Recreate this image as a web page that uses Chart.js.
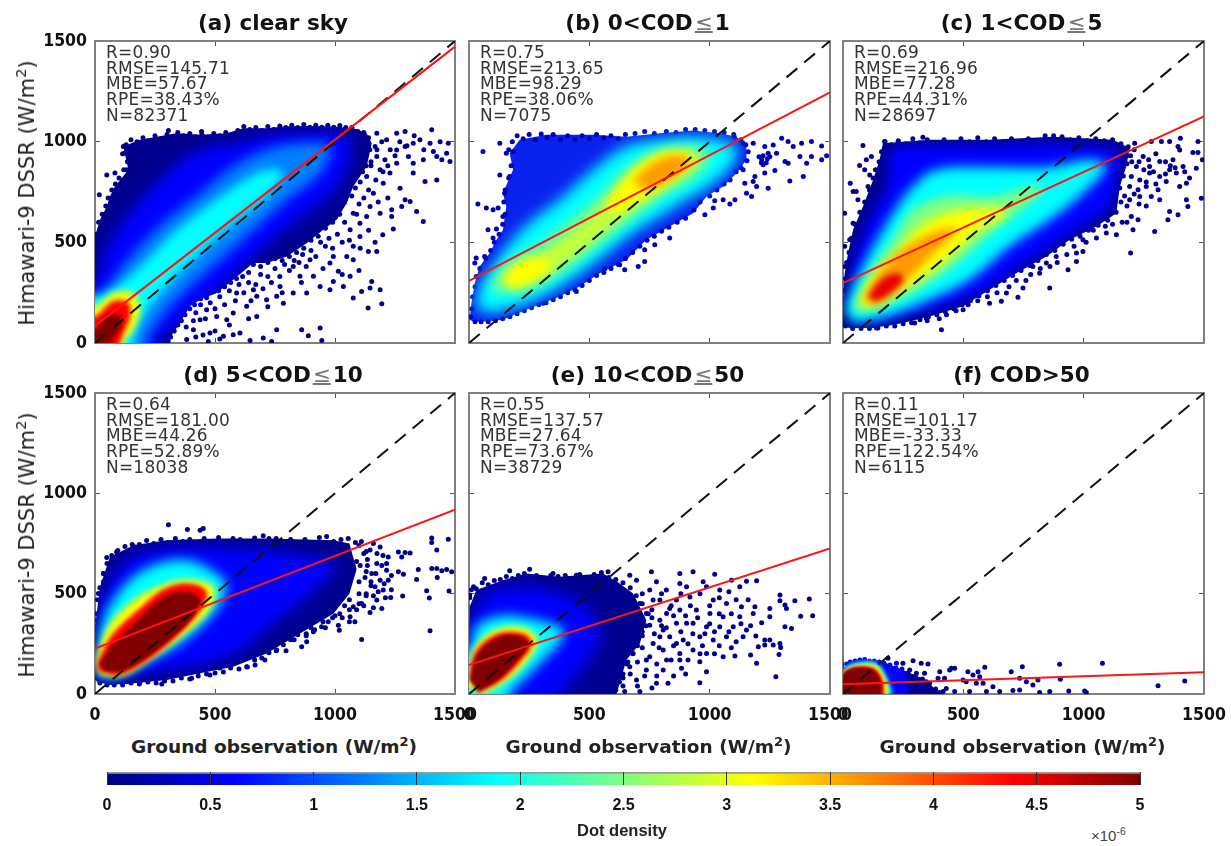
<!DOCTYPE html>
<html>
<head>
<meta charset="utf-8">
<title>Himawari-9 DSSR vs ground observation</title>
<script src="https://cdn.jsdelivr.net/npm/chart.js@4/dist/chart.umd.js"></script>
<style>
  body { margin: 0; background: #fff; }
  #page { position: relative; width: 1231px; height: 846px; overflow: hidden; background: #fff; filter: blur(0.35px); }
  canvas { position: absolute; }
  .txt { position: absolute; white-space: nowrap; font-family: "DejaVu Sans", sans-serif; }
  .title { font-weight: bold; font-size: 21.5px; color: #111; transform: translateX(-50%); }
  .title i { font-style: normal; font-weight: normal; color: #777; text-decoration: underline; text-underline-offset: 1px; padding: 0 2px; }
  .stats { font-size: 17px; letter-spacing: 0.2px; line-height: 15.7px; color: #333; white-space: pre; }
  .xname { font-weight: bold; font-size: 18.5px; color: #222; transform: translateX(-50%); }
  .yname { font-size: 21px; color: #222; transform: translate(-50%,-50%) rotate(-90deg); }
  sup { font-size: 70%; line-height: 0; }
</style>
</head>
<body>
<div id="page"></div>
<script>
const tickValues = [0, 500, 1000, 1500];
const barTicks = [0, 0.5, 1, 1.5, 2, 2.5, 3, 3.5, 4, 4.5, 5];

const diagonal = [[0, 0], [1500, 1500]];
const fitA = [[0, 85], [1500, 1472]];
const fitB = [[0, 309], [1500, 1245]];
const fitC = [[0, 298], [1500, 1125]];
const fitD = [[0, 227], [1500, 919]];
const fitE = [[0, 144], [1500, 725]];
const fitF = [[0, 48], [1500, 108]];

// (a) clear sky: density contours, outermost first
const aOuter = [[0,0],[0,530],[21,612],[49,678],[62,728],[83,777],[139,860],[118,976],[187,1009],[257,1025],[340,1042],[438,1034],[549,1042],[618,1067],[715,1067],[785,1075],[882,1078],[993,1075],[1076,1067],[1132,1042],[1153,992],[1132,877],[1076,777],[1049,695],[1007,612],[951,562],[882,496],[799,430],[715,397],[660,397],[576,314],[507,248],[438,215],[396,182],[354,99],[326,50],[299,0]];
const aBlue = [[-80,-80],[-80,298],[0,298],[40,450],[130,620],[270,810],[420,950],[576,990],[715,1030],[854,1042],[993,1042],[1063,1009],[1063,926],[1000,760],[880,640],[745,520],[610,370],[470,220],[330,80],[250,0],[250,-80]];
const aAzure = [[-80,-80],[-80,215],[0,215],[160,447],[299,612],[438,744],[576,877],[715,959],[854,992],[979,976],[938,844],[785,695],[646,546],[507,397],[368,248],[257,99],[215,0],[215,-80]];
const aCyan = [[-80,-80],[-80,200],[49,248],[188,380],[326,546],[465,678],[604,794],[715,860],[785,844],[715,728],[576,595],[438,447],[299,281],[201,132],[160,0],[160,-80]];
const aYellow = [[-80,-80],[-80,180],[0,182],[76,248],[160,248],[188,165],[160,66],[118,0],[118,-80]];
const aRed = [[-80,-80],[-80,130],[0,132],[76,207],[139,198],[146,132],[104,0],[104,-80]];
const aDark = [[-80,-80],[-80,66],[0,66],[49,140],[97,140],[111,91],[69,0],[69,-80]];
const aDots = [[1174,1042],[1257,1042],[1292,1050],[1403,1059],[1215,1009],[1326,992],[1396,992],[1438,1000],[1472,992],[1167,976],[1257,959],[1292,976],[1354,1009],[1410,951],[1465,943],[1445,910],[1479,901],[1326,893],[1368,910],[1424,926],[1174,926],[1208,910],[1257,893],[1306,926],[1188,860],[1229,844],[1326,844],[1375,802],[1424,810],[1132,827],[1201,794],[1271,769],[1160,744],[1292,711],[1313,703],[1278,678],[1236,662],[1340,653],[1368,604],[1146,678],[1188,645],[1236,628],[1243,566],[1132,628],[1076,645],[1104,595],[1063,562],[1199,538],[1104,529],[1167,500],[1139,455],[1174,455],[1076,480],[1049,430],[993,430],[1076,414],[979,397],[1014,356],[1063,331],[910,331],[993,306],[938,281],[1035,281],[1153,306],[1146,273],[1111,256],[1188,265],[1076,223],[1195,195],[1138,174],[979,265],[826,248],[882,248],[757,232],[785,198],[715,215],[674,232],[861,66],[938,74],[889,36],[757,66],[945,13],[646,13],[604,50],[576,41],[535,33],[479,50],[472,8],[736,8],[701,25],[674,132],[632,182],[576,149],[549,116],[507,132],[438,116],[465,165],[410,66],[382,17],[590,248],[660,265],[771,281],[854,331],[896,414],[826,380],[18,736],[49,835],[83,844],[132,860],[0,521],[35,595],[118,976],[125,943],[306,1055],[444,1050],[1090,1050]];
const aMore = [[420,150],[440,190],[460,120],[480,200],[500,170],[520,230],[540,190],[560,260],[585,210],[600,290],[620,250],[640,300],[650,210],[670,290],[690,340],[700,270],[720,330],[735,300],[750,370],[770,330],[790,390],[810,360],[830,410],[850,400],[865,440],[880,380],[900,460],[920,430],[940,500],[960,480],[975,520],[990,470],[1010,540],[1030,500],[1040,600],[1060,510],[1090,640],[1100,690],[1120,720],[1140,760],[1170,810],[1200,850],[1220,880],[1150,880],[1175,960],[1195,1000],[1230,960],[1250,930],[1270,1000],[1300,980],[1330,1030],[1370,960],[1180,700],[1220,720],[1105,470],[1140,560],[1100,360],[1030,340],[950,370],[860,300],[780,250],[720,180],[640,120],[560,90],[500,60],[450,40],[410,110],[380,80],[420,30],[520,20]];
const aRim = [[130,985],[150,1010],[175,1000],[200,1020],[225,1005],[250,1030],[275,1015],[300,1035],[320,1020],[345,1045],[370,1030],[395,1040],[420,1025],[445,1035],[470,1020],[495,1040],[520,1030],[545,1045],[570,1035],[595,1055],[620,1075],[645,1060],[670,1070],[695,1055],[720,1075],[745,1060],[770,1078],[795,1070],[820,1082],[845,1070],[870,1085],[895,1072],[920,1082],[945,1072],[970,1082],[995,1072],[1020,1080],[1045,1070],[1070,1070],[1095,1050],[1120,1045],[1140,1020],[1145,960],[1150,900],[1130,880],[1115,850],[1105,800],[1085,770],[1070,730],[1040,700],[1020,640],[990,600],[960,570],[930,530],[900,510],[870,470],[840,450],[810,430],[780,410],[750,420],[720,400],[690,380],[660,390],[640,350],[615,330],[590,320],[565,300],[540,280],[515,260],[490,255],[465,225],[440,220],[415,190],[395,170],[375,140],[360,110],[345,90],[330,60],[315,30],[305,10],[5,540],[15,600],[30,640],[45,680],[55,720],[70,760],[85,790],[100,820],[120,860],[135,900],[115,940],[125,980]];

// (b) 0<COD<=1
const bOuter = [[3,116],[10,198],[24,298],[44,380],[86,447],[114,513],[141,562],[155,678],[141,744],[183,860],[169,943],[211,1009],[322,1034],[516,1034],[654,1025],[793,1042],[931,1055],[1042,1042],[1112,1025],[1153,976],[1153,910],[1112,844],[1056,777],[987,728],[931,645],[834,579],[737,513],[654,414],[543,347],[460,281],[363,223],[238,165],[141,116],[72,107],[17,107]];
const bCyan = [[30,165],[44,281],[100,380],[169,496],[266,612],[377,711],[516,860],[654,976],[793,1009],[931,1025],[1042,1009],[1112,976],[1098,893],[1015,794],[904,711],[793,628],[682,546],[557,430],[446,331],[335,248],[211,182],[100,149]];
const bGreen = [[86,265],[141,380],[266,463],[377,562],[516,695],[654,860],[793,959],[931,976],[1001,926],[917,810],[793,728],[682,628],[557,513],[432,397],[308,298],[183,248]];
const bLime = [[141,314],[238,397],[377,496],[516,628],[627,761],[738,877],[863,943],[960,926],[848,811],[710,695],[585,580],[446,447],[322,347],[197,265]];
const bYellowLow = [[141,331],[225,414],[322,414],[335,364],[238,298],[169,281]];
const bYellowHigh = [[571,695],[682,860],[793,943],[904,943],[931,893],[820,794],[710,711],[613,645]];
const bOrange = [[680,800],[750,880],[830,925],[900,925],[915,885],[830,810],[750,760]];
const bDots = [[1181,992],[1229,976],[1264,984],[1299,1017],[1326,1001],[1347,976],[1382,992],[1423,1001],[1465,979],[1486,930],[1465,910],[1423,926],[1403,893],[1375,926],[1326,893],[1313,901],[1278,943],[1243,943],[1216,910],[1222,885],[1271,857],[1229,844],[1188,827],[1181,802],[1195,777],[1243,769],[1333,805],[1389,827],[1139,860],[1146,794],[1153,744],[1174,728],[1105,711],[1084,691],[1056,711],[1021,706],[1015,670],[980,637],[834,521],[772,488],[730,463],[730,405],[703,380],[647,364],[626,389],[564,367],[446,256],[308,198],[1102,1025],[1139,992],[1222,930],[1240,915],[1205,925],[1250,925],[1215,895],[1235,895],[58,951],[128,992],[37,691],[72,670],[100,662],[79,562],[114,566],[100,521],[24,397],[30,422],[65,430],[128,835],[169,827],[155,943],[183,951],[148,744],[121,670],[141,628]];
const bRim = [[165,960],[180,1000],[200,1030],[225,1015],[250,1035],[275,1010],[300,1038],[325,1020],[350,1035],[380,1010],[410,1030],[440,1010],[470,1030],[500,1015],[530,1035],[560,1020],[590,1030],[620,1015],[650,1035],[690,1040],[730,1050],[770,1040],[820,1050],[860,1045],[900,1060],[940,1060],[980,1055],[1020,1050],[1060,1045],[1100,1035],[1130,1010],[1150,985],[1160,950],[1155,905],[1130,870],[1110,850],[1085,810],[1060,790],[1030,760],[1000,730],[960,700],[935,660],[900,620],[865,600],[830,575],[800,555],[770,530],[740,510],[710,480],[680,450],[650,420],[620,390],[590,370],[560,350],[530,335],[500,310],[470,285],[440,265],[410,250],[380,230],[350,215],[320,200],[290,190],[260,175],[230,160],[200,145],[170,130],[140,120],[110,110],[80,105],[50,105],[25,105],[8,130],[12,170],[15,230],[25,280],[30,330],[45,370],[70,420],[90,460],[105,500],[125,540],[140,590],[150,640],[145,700],[150,760],[165,820],[175,880]];

// (c) 1<COD<=5
const cOuter = [[0,83],[0,215],[7,347],[21,446],[42,562],[83,678],[125,810],[152,910],[166,992],[360,1009],[609,1009],[872,1025],[1122,1009],[1191,968],[1177,877],[1150,777],[1136,645],[1053,579],[942,513],[845,430],[720,347],[609,265],[499,182],[360,132],[249,99],[125,74],[28,74]];
const cBlue = [[28,132],[42,380],[97,579],[180,777],[208,965],[360,980],[609,985],[872,990],[1053,975],[1150,945],[1136,810],[1108,678],[997,579],[845,463],[693,347],[540,232],[360,165],[194,116],[55,91]];
const cCyan = [[7,165],[42,281],[111,447],[208,645],[291,777],[388,860],[609,873],[845,873],[1025,910],[1094,877],[997,744],[859,612],[693,480],[526,314],[360,215],[180,132],[42,99]];
const cGreen = [[42,182],[111,347],[208,513],[291,662],[429,728],[637,728],[776,777],[831,761],[720,645],[596,529],[471,397],[332,281],[166,182],[69,149]];
const cYellow = [[69,215],[125,331],[222,447],[305,562],[429,645],[637,670],[679,645],[568,562],[429,414],[291,298],[152,199],[83,182]];
const cOrange = [[85,215],[165,370],[270,480],[400,560],[470,560],[370,440],[260,310],[140,190]];
const cRed = [[105,235],[165,320],[230,345],[250,310],[185,235],[130,205]];
const cDots = [[1212,992],[1281,1001],[1323,1001],[1357,1001],[1402,1017],[1475,1001],[1493,910],[1454,946],[1475,946],[1392,976],[1399,959],[1468,868],[1413,877],[1371,910],[1316,901],[1274,877],[1247,926],[1219,877],[1198,827],[1233,810],[1274,844],[1316,827],[1357,860],[1385,844],[1427,794],[1399,777],[1343,802],[1309,761],[1260,777],[1226,761],[1191,777],[1191,711],[1233,728],[1281,728],[1316,711],[1489,719],[1427,711],[1433,678],[1357,653],[1350,612],[1392,637],[1295,554],[1226,612],[1198,628],[1205,562],[1136,538],[1094,546],[1053,521],[1195,447],[997,513],[997,455],[970,447],[970,405],[935,364],[886,430],[845,397],[803,414],[789,380],[817,347],[859,273],[748,273],[727,227],[679,248],[658,207],[609,198],[499,165],[409,66],[346,124],[298,99],[249,116],[194,99],[139,74],[83,981],[118,926],[97,910],[69,882],[90,860],[111,835],[30,794],[42,753],[55,753],[104,777],[7,645],[62,711],[83,645],[42,595],[69,562],[7,480],[28,513],[97,496],[7,380],[173,1001],[229,1001],[332,1022]];
const cMore = [[1160,960],[1180,930],[1200,900],[1210,960],[1230,900],[1250,860],[1270,910],[1290,850],[1300,940],[1340,900],[1360,880],[1340,840],[1380,870],[1420,850],[1440,820],[1300,790],[1260,800],[1230,690],[1260,680],[1180,680],[1170,730],[1210,740],[1160,600],[1120,590],[1180,600],[1090,580],[1040,560],[1010,500],[960,480],[930,440],[890,400],[860,380],[820,370],[780,340],[760,310],[720,310],[690,280],[640,250],[600,230],[560,210],[520,190],[470,160],[430,140],[400,120],[350,110],[20,300],[30,420],[50,480],[60,540],[75,600],[95,640],[120,700],[130,750],[140,810]];
const cRim = [[150,900],[160,950],[175,1000],[200,985],[230,1005],[260,990],[290,1015],[320,995],[350,1010],[385,990],[420,1010],[455,995],[490,1015],[525,1000],[560,1020],[595,1000],[630,1015],[665,1000],[700,1015],[735,1000],[770,1015],[805,1000],[840,1030],[875,1030],[910,1025],[945,1010],[980,1020],[1015,1005],[1050,1015],[1085,1005],[1120,1010],[1155,990],[1185,975],[1195,930],[1180,890],[1165,830],[1150,770],[1155,700],[1135,650],[1100,610],[1060,585],[1020,560],[985,530],[950,515],[915,490],[880,460],[845,440],[810,410],[775,385],[740,360],[705,335],[670,310],[635,285],[600,260],[565,235],[530,210],[495,190],[460,170],[425,155],[390,140],[355,130],[320,115],[285,100],[250,95],[215,85],[180,85],[145,75],[110,72],[75,72],[40,72],[10,85],[3,260],[10,320],[15,400],[25,450],[35,520],[50,590],[70,650],[90,700],[110,760],[125,820],[135,860]];

// (d) 5<COD<=10
const dOuter = [[0,86],[0,335],[21,534],[62,683],[160,741],[299,766],[507,775],[715,775],[993,766],[1060,750],[1090,620],[1060,500],[993,400],[854,302],[715,202],[576,136],[438,103],[299,70],[160,53],[62,45],[7,61]];
const dBlue = [[0,119],[21,418],[76,584],[160,683],[299,725],[507,733],[688,717],[854,690],[1000,640],[900,500],[760,370],[610,220],[460,150],[271,119],[132,86],[35,78]];
const dCyan = [[7,136],[35,368],[118,534],[229,634],[382,667],[507,600],[549,534],[493,401],[354,252],[229,169],[90,86],[21,86]];
const dYellow = [[2,170],[60,345],[175,480],[290,550],[400,570],[495,530],[480,425],[365,290],[225,170],[110,90],[15,100]];
const dRed = [[10,160],[75,300],[190,430],[290,525],[395,550],[465,510],[435,410],[325,270],[200,155],[95,95],[15,115]];
const dDark = [[20,150],[70,240],[180,370],[270,470],[350,510],[435,480],[410,390],[310,270],[200,170],[110,115],[40,115]];
const dDots = [[306,844],[385,820],[451,825],[438,816],[701,788],[1403,778],[1472,771],[1403,755],[1424,717],[1264,708],[1292,705],[1313,703],[1278,683],[1347,620],[1403,625],[1424,625],[1445,614],[1465,620],[1486,609],[1264,609],[1285,597],[1340,571],[1426,581],[1382,514],[1475,513],[1393,479],[1282,488],[1396,315],[1111,272],[1146,717],[1188,733],[1222,683],[1174,650],[1215,617],[1153,600],[1188,567],[1222,567],[1167,534],[1201,518],[1232,481],[1174,468],[1195,426],[1146,406],[1111,451],[1076,435],[1063,385],[1083,360],[1014,343],[1018,318],[972,360],[944,335],[910,310],[861,236],[882,260],[796,216],[757,219],[708,169],[667,144],[632,136],[590,161],[549,153],[479,95],[403,78],[278,50],[257,86],[188,61],[132,61],[49,680],[76,659],[35,601],[35,559],[14,501],[7,368],[0,277],[90,708],[167,733]];
const dMore = [[1100,740],[1120,700],[1135,670],[1160,750],[1175,700],[1200,690],[1105,640],[1130,610],[1170,600],[1195,640],[1215,650],[1235,590],[1100,560],[1125,580],[1150,540],[1180,510],[1205,550],[1235,520],[1100,500],[1130,500],[1160,490],[1210,480],[1120,440],[1160,430],[1090,420],[1060,470],[1040,440],[1030,380],[1000,390],[1060,360],[960,330],[900,330],[880,290],[830,270],[790,280],[740,240],[700,210],[660,200],[610,170],[570,160],[520,130],[480,130],[430,110],[1050,700],[1075,640],[1060,560],[1090,660]];
const dRim = [[0,330],[3,400],[10,470],[20,530],[35,600],[50,650],[70,690],[95,715],[125,735],[155,745],[185,745],[215,765],[245,750],[275,770],[305,755],[335,775],[365,760],[395,770],[425,755],[455,775],[485,760],[515,780],[545,760],[575,775],[605,770],[635,760],[665,778],[695,760],[725,775],[755,775],[785,760],[815,770],[845,755],[875,770],[905,755],[935,780],[965,785],[995,760],[1025,770],[1055,775],[1085,755],[1110,760],[1130,710],[1135,640],[1150,560],[1130,490],[1100,450],[1060,420],[1020,400],[990,380],[950,360],[915,320],[880,300],[845,295],[815,270],[785,245],[755,215],[725,205],[695,180],[665,170],[635,135],[600,125],[565,130],[535,110],[500,105],[465,100],[430,90],[395,75],[360,80],[325,65],[290,65],[255,55],[220,60],[185,50],[150,55],[115,45],[80,45],[50,45],[20,55],[5,80]];

// (e) 10<COD<=50
const eOuter = [[0,0],[3,435],[30,518],[141,567],[238,601],[377,584],[557,600],[626,551],[682,501],[737,368],[710,252],[654,169],[613,0]];
const eBlue = [[-50,-50],[-50,352],[3,352],[72,501],[238,534],[377,501],[488,435],[543,302],[516,202],[446,86],[377,0],[377,-50]];
const eCyan = [[-50,-50],[-50,219],[3,219],[30,335],[114,385],[211,385],[377,335],[391,285],[308,169],[238,86],[169,0],[169,-50]];
const eYellow = [[-50,60],[0,130],[30,245],[120,325],[230,330],[285,265],[245,170],[160,70],[60,0]];
const eRed = [[0,85],[30,215],[120,300],[228,300],[262,250],[208,155],[130,65],[40,5]];
const eDark = [[5,70],[35,195],[125,285],[220,285],[245,240],[195,160],[120,70],[40,15]];
const eDots = [[169,614],[252,622],[349,601],[446,592],[578,609],[668,592],[758,609],[696,567],[779,559],[876,601],[931,609],[1021,597],[876,551],[973,559],[1091,567],[1153,562],[1195,564],[751,518],[820,518],[904,534],[987,534],[1042,518],[1125,534],[1292,493],[1414,473],[1354,465],[1292,465],[1188,435],[1132,435],[1250,426],[1313,443],[1319,426],[710,451],[793,468],[862,468],[918,484],[1015,468],[1070,451],[682,401],[737,401],[821,401],[876,418],[945,418],[1001,401],[1056,385],[1125,385],[1181,401],[1250,385],[1378,388],[1428,390],[1313,335],[1340,327],[668,335],[751,343],[807,319],[862,352],[931,352],[987,335],[1042,335],[1098,335],[1153,319],[1216,355],[1192,289],[1229,269],[1250,269],[1264,244],[1292,252],[1295,232],[1229,244],[1202,236],[626,285],[696,269],[765,252],[834,285],[890,269],[959,285],[1015,269],[1070,285],[1139,285],[613,202],[682,202],[751,186],[807,219],[876,202],[931,219],[987,202],[1056,186],[1105,189],[1170,194],[1288,197],[1195,153],[1275,86],[599,119],[668,136],[737,119],[807,119],[883,128],[959,161],[987,111],[959,56],[613,53],[696,70],[779,53],[827,53],[516,20],[599,12],[647,12],[710,12],[446,12],[356,12],[65,576],[19,534],[3,493],[765,468],[834,426],[793,368],[904,352],[862,252],[793,285],[737,169],[821,169],[876,169]];
const eMore = [[640,480],[680,450],[720,500],[760,420],[800,500],[840,440],[880,500],[920,440],[960,500],[1000,440],[1040,480],[1080,510],[1110,470],[1160,470],[640,400],[700,360],[760,380],[800,340],[850,390],[900,390],[950,380],[1000,350],[1040,400],[1090,400],[1130,350],[1170,340],[640,320],[720,310],[770,300],[820,330],[880,310],[930,300],[980,300],[1020,310],[1080,310],[1110,260],[650,240],[720,230],[790,230],[850,240],[910,250],[970,240],[1040,240],[1090,230],[660,160],[700,160],[780,150],[840,170],[910,170],[960,200],[1020,200],[640,80],[670,100],[730,90],[780,90],[850,90],[900,100],[700,40],[760,30],[590,30],[560,20],[480,15],[400,8],[300,10],[250,5],[640,40],[600,70],[630,130]];
const eRim = [[3,480],[10,520],[30,525],[55,555],[80,545],[105,565],[130,570],[155,585],[180,575],[205,590],[230,600],[255,585],[280,590],[310,575],[340,590],[370,585],[400,590],[430,575],[460,595],[490,580],[520,595],[550,605],[580,580],[610,570],[640,555],[670,530],[695,490],[720,450],[745,400],[735,340],[720,290],[700,240],[680,200],[655,150],[640,100],[625,60],[610,20]];

// (f) COD>50
const fOuter = [[0,0],[0,119],[28,161],[83,169],[166,161],[249,119],[346,70],[402,0]];
const fBlue = [[-30,-30],[-30,130],[28,175],[83,180],[166,170],[235,150],[270,60],[270,-30]];
const fCyan = [[0,0],[0,70],[14,136],[83,161],[139,153],[180,86],[208,0]];
const fYellow = [[-10,-10],[-10,86],[14,125],[69,148],[139,142],[178,70],[190,-10]];
const fRed = [[-10,-10],[-10,70],[16,120],[69,138],[130,128],[165,70],[172,-10]];
const fDark = [[-10,-10],[-10,70],[15,115],[69,132],[125,120],[155,70],[160,-10]];
const fDots = [[187,178],[222,153],[249,153],[291,166],[325,153],[353,149],[277,119],[305,103],[339,103],[402,111],[450,128],[464,128],[443,119],[519,111],[561,111],[589,133],[540,95],[568,86],[512,61],[554,53],[582,53],[623,36],[699,111],[745,136],[734,78],[762,61],[789,45],[810,70],[900,148],[903,73],[1078,153],[1309,41],[1420,65],[938,15],[1004,15],[1011,8],[859,12],[817,8],[706,17],[734,20],[651,12],[596,12],[526,12],[464,12],[416,12],[360,20],[319,36],[395,78],[422,78],[346,61],[291,53],[263,70],[429,28],[499,70]];
const fRim = [[5,125],[15,150],[30,160],[50,165],[70,170],[90,172],[110,165],[130,165],[150,160],[170,155],[195,145],[220,130],[245,125],[270,105],[300,90],[330,75],[360,55],[385,25],[400,8],[5,90]];

const jetNavy = "#00008f", jetBlue = "#0000ff", jetAzure = "#0080ff", jetCyan = "#00ffff", jetGreen = "#80ff80",
      jetLime = "#c8ff38", jetYellow = "#ffff00", jetOrange = "#ff9a00", jetRed = "#ff0000", jetDark = "#800000";

// [points, colour, blur] from back to front
const panels = [
  { left: 95, right: 455, top: 41, bottom: 343, fit: fitA, outer: aOuter, outerColor: jetNavy, dots: aDots.concat(aMore), rim: aRim, dotColor: jetNavy,
    xLabels: false, yLabels: true, layers: [[aBlue, jetBlue, 7], [aAzure, jetAzure, 6], [aCyan, jetCyan, 5], [aYellow, jetYellow, 3], [aRed, jetRed, 2.5], [aDark, jetDark, 2]] },
  { left: 469, right: 830, top: 41, bottom: 343, fit: fitB, outer: bOuter, outerColor: "#0a22ee", dots: bDots, rim: bRim, dotColor: "#0000b8",
    xLabels: false, yLabels: false, layers: [[bCyan, jetCyan, 7], [bGreen, jetGreen, 6], [bLime, jetLime, 5], [bYellowLow, jetYellow, 5], [bYellowHigh, jetYellow, 5], [bOrange, jetOrange, 4]] },
  { left: 843, right: 1204, top: 41, bottom: 343, fit: fitC, outer: cOuter, outerColor: jetNavy, dots: cDots.concat(cMore), rim: cRim, dotColor: jetNavy,
    xLabels: false, yLabels: false, layers: [[cBlue, jetBlue, 6], [cCyan, jetCyan, 6], [cGreen, jetGreen, 5], [cYellow, jetYellow, 5], [cOrange, jetOrange, 4], [cRed, "#e80000", 3]] },
  { left: 95, right: 455, top: 393, bottom: 694, fit: fitD, outer: dOuter, outerColor: jetNavy, dots: dDots.concat(dMore), rim: dRim, dotColor: jetNavy,
    xLabels: true, yLabels: true, layers: [[dBlue, jetBlue, 7], [dCyan, jetCyan, 6], [dYellow, jetYellow, 3], [dRed, jetRed, 2], [dDark, jetDark, 1.5]] },
  { left: 469, right: 830, top: 393, bottom: 694, fit: fitE, outer: eOuter, outerColor: jetNavy, dots: eDots.concat(eMore), rim: eRim, dotColor: jetNavy,
    xLabels: true, yLabels: false, layers: [[eBlue, jetBlue, 8], [eCyan, jetCyan, 6], [eYellow, jetYellow, 3], [eRed, jetRed, 2], [eDark, jetDark, 1.5]] },
  { left: 843, right: 1204, top: 393, bottom: 694, fit: fitF, outer: fOuter, outerColor: jetNavy, dots: fDots, rim: fRim, dotColor: jetNavy,
    xLabels: true, yLabels: false, layers: [[fBlue, jetBlue, 2], [fCyan, jetCyan, 2], [fYellow, jetYellow, 2], [fRed, jetRed, 1.5], [fDark, jetDark, 1]] }
];

const panelTitles = ["(a) clear sky", "(b) 0&lt;COD<i>≤</i>1", "(c) 1&lt;COD<i>≤</i>5", "(d) 5&lt;COD<i>≤</i>10", "(e) 10&lt;COD<i>≤</i>50", "(f) COD&gt;50"];
const panelStats = [
  ["R=0.90", "RMSE=145.71", "MBE=57.67", "RPE=38.43%", "N=82371"],
  ["R=0.75", "RMSE=213.65", "MBE=98.29", "RPE=38.06%", "N=7075"],
  ["R=0.69", "RMSE=216.96", "MBE=77.28", "RPE=44.31%", "N=28697"],
  ["R=0.64", "RMSE=181.00", "MBE=44.26", "RPE=52.89%", "N=18038"],
  ["R=0.55", "RMSE=137.57", "MBE=27.64", "RPE=73.67%", "N=38729"],
  ["R=0.11", "RMSE=101.17", "MBE=-33.33", "RPE=122.54%", "N=6115"]
];

const pad = { left: 60, right: 26, top: 10, bottom: 30 };
const tickFont = { family: "'DejaVu Sans Condensed','DejaVu Sans',sans-serif", size: 17.5, weight: "bold" };
const frameColor = "#808080";
const page = document.getElementById("page");

// inner contours are blurred and painted only over what the outer cloud already covers.
// Has to run before the Filler plugin, so Filler gets registered again after it
const blurFill = {
  id: "blurFill",
  beforeDatasetDraw(chart, args) {
    const px = chart.data.datasets[args.index].blurPx;
    if (px) {
      chart.ctx.filter = "blur(" + px + "px)";
      chart.ctx.globalCompositeOperation = "source-atop";
    }
  },
  afterDatasetDraw(chart) {
    chart.ctx.filter = "none";
    chart.ctx.globalCompositeOperation = "source-over";
  }
};
Chart.unregister(Chart.Filler);
Chart.register(blurFill, Chart.Filler);

function toXY(list) {
  return list.map(p => ({ x: p[0], y: p[1] }));
}

function makeAxis(position, showLabels, size, labelGap) {
  return {
    type: "linear", position: position, min: 0, max: 1500,
    afterBuildTicks(axis) { axis.ticks = tickValues.map(v => ({ value: v })); },
    afterFit(axis) {
      if (axis.isHorizontal()) axis.height = size; else axis.width = size;
      // tick labels may hang over the plot edge, plots overlap like the original
      axis.paddingLeft = axis.paddingRight = axis.paddingTop = axis.paddingBottom = 0;
    },
    border: { color: frameColor, width: 2 },
    grid: { drawOnChartArea: false, drawTicks: true, tickLength: -5, tickWidth: 1, tickColor: "#555" },
    ticks: { display: showLabels, color: "#111", font: tickFont, padding: labelGap, maxRotation: 0, autoSkip: false, callback: v => String(v) }
  };
}

function addChart(panel) {
  const canvas = document.createElement("canvas");
  const w = panel.right - panel.left + pad.left + pad.right;
  const h = panel.bottom - panel.top + pad.top + pad.bottom;
  canvas.width = w;
  canvas.height = h;
  canvas.style.left = (panel.left - pad.left) + "px";
  canvas.style.top = (panel.top - pad.top) + "px";
  page.appendChild(canvas);

  // first dataset in this list ends up on top
  const datasets = [
    { data: toXY(panel.fit), showLine: true, borderColor: "#ff1414", borderWidth: 2, pointRadius: 0, fill: false },
    { data: toXY(diagonal), showLine: true, borderColor: "#111", borderWidth: 2, borderDash: [14, 9], pointRadius: [0, 1.5], pointBackgroundColor: "#111", pointBorderWidth: 0, fill: false }
  ];
  panel.layers.slice().reverse().forEach(l => {
    datasets.push({ data: toXY(l[0]), showLine: true, fill: "shape", backgroundColor: l[1], borderWidth: 0, pointRadius: 0, tension: 0.35, blurPx: l[2] });
  });
  datasets.push({ data: toXY(panel.rim.concat(panel.dots)), showLine: false, pointRadius: 2.5, pointBackgroundColor: panel.dotColor, pointBorderWidth: 0 });
  datasets.push({ data: toXY(panel.outer), showLine: true, fill: "shape", backgroundColor: panel.outerColor, borderWidth: 0, pointRadius: 0, tension: 0 });

  new Chart(canvas, {
    type: "scatter",
    data: { datasets: datasets },
    options: {
      responsive: false, animation: false, events: [],
      layout: { padding: { left: 0, right: pad.right, top: pad.top, bottom: 0 } },
      plugins: { legend: { display: false }, tooltip: { enabled: false } },
      scales: {
        x: makeAxis("bottom", panel.xLabels, pad.bottom, 16),
        y: makeAxis("left", panel.yLabels, pad.left, 13),
        x2: makeAxis("top", false, 0, 0),
        y2: makeAxis("right", false, 0, 0)
      }
    }
  });
}

function addText(cls, html, left, top) {
  const d = document.createElement("div");
  d.className = "txt " + cls;
  d.innerHTML = html;
  d.style.left = left + "px";
  d.style.top = top + "px";
  page.appendChild(d);
}

panels.forEach((panel, i) => {
  addChart(panel);
  addText("title", panelTitles[i], (panel.left + panel.right) / 2 - 2, panel.top - 31);
  addText("stats", panelStats[i].join("\n"), panel.left + 11, panel.top + 4);
  if (panel.xLabels) addText("xname", "Ground observation (W/m<sup>2</sup>)", (panel.left + panel.right) / 2 - 1, 736);
  if (panel.yLabels) addText("yname", "Himawari-9 DSSR (W/m<sup>2</sup>)", 27, (panel.top + panel.bottom) / 2 + 1);
});

// colour bar
const barCanvas = document.createElement("canvas");
barCanvas.width = 1093;
barCanvas.height = 60;
barCanvas.style.left = "77px";
barCanvas.style.top = "762px";
page.appendChild(barCanvas);

const barFont = { family: "'Liberation Sans Narrow','Liberation Sans',sans-serif", size: 16, weight: "bold" };

new Chart(barCanvas, {
  type: "bar",
  data: {
    labels: ["density"],
    datasets: [{
      data: [[0, 5]],
      barPercentage: 1,
      categoryPercentage: 1,
      borderColor: "#999",
      borderWidth: { top: 2, bottom: 0, left: 0, right: 0 },
      borderSkipped: false,
      backgroundColor(c) {
        const area = c.chart.chartArea;
        if (!area) return jetBlue;
        const g = c.chart.ctx.createLinearGradient(area.left, 0, area.right, 0);
        g.addColorStop(0, "#000080");
        g.addColorStop(0.125, jetBlue);
        g.addColorStop(0.375, jetCyan);
        g.addColorStop(0.625, jetYellow);
        g.addColorStop(0.875, jetRed);
        g.addColorStop(1, jetDark);
        return g;
      }
    }]
  },
  options: {
    indexAxis: "y", responsive: false, animation: false, events: [],
    layout: { padding: { left: 30, right: 30, top: 10, bottom: 0 } },
    plugins: { legend: { display: false }, tooltip: { enabled: false } },
    scales: {
      y: { display: false },
      x: {
        type: "linear", min: 0, max: 5,
        afterBuildTicks(axis) { axis.ticks = barTicks.map(v => ({ value: v })); },
        afterFit(axis) {
          axis.height = 37;
          axis.paddingLeft = axis.paddingRight = 0;
        },
        border: { display: false },
        grid: { color: "#333", lineWidth: 1, z: 1, drawTicks: false },
        ticks: { color: "#111", font: barFont, padding: 11, maxRotation: 0, autoSkip: false, callback: v => String(v) }
      }
    }
  }
});

addText("", '<span style="font:bold 16.5px \'Liberation Sans Narrow\',\'Liberation Sans\',sans-serif;color:#222">Dot density</span>', 577, 821);
addText("", '<span style="font:15px \'Liberation Sans\',sans-serif;color:#444">×10<sup>-6</sup></span>', 1091, 826);
</script>
</body>
</html>
